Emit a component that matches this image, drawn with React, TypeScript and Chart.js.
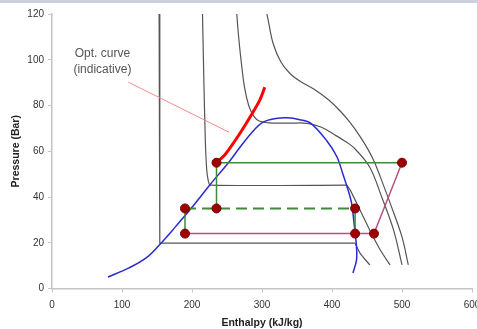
import React, { useEffect, useRef } from "react";
import { Chart, registerables } from "chart.js";
Chart.register(...registerables);

// Saturation dome
const domeH = [80, 110, 135, 155, 175, 200, 226, 252, 268, 285, 301, 320, 336, 354, 369, 392, 407, 416, 423, 428, 431, 433, 435, 435, 430];
const domeP = [5, 9, 13.5, 19.6, 26.5, 35.5, 45.5, 55, 61.5, 68, 72.6, 74.3, 74.6, 73.8, 72.4, 64.8, 57.6, 49.6, 43, 37.3, 30, 24.2, 18.3, 12.4, 6.8];

// Isotherm 1
const iso1LiqH = [153, 154, 433];
const iso1LiqP = [120, 19.8, 19.8];
const iso1VapH = [433, 440, 454];
const iso1VapP = [19.8, 15.5, 10.3];

// Isotherm 2
const iso2LiqH = [215, 217, 219, 221, 223, 226, 421];
const iso2LiqP = [120, 90, 65, 52, 47.5, 45.2, 45.2];
const iso2VapH = [421, 426, 440, 454, 469, 483];
const iso2VapP = [45.2, 43, 34.3, 25.5, 16.8, 10.3];

// Isotherm 3 (near critical)
const iso3H = [264, 266, 270, 275, 281, 288, 296, 310, 340, 365, 385, 402, 418, 433, 454, 471, 488, 500];
const iso3P = [120, 112, 100, 88, 80, 75.5, 73.2, 72.4, 72.3, 72.2, 70.5, 67.5, 64.5, 61, 53, 40, 25.5, 10.3];

// Isotherm 4 (supercritical)
const iso4H = [307, 309, 316, 327, 340, 355, 375, 395, 412, 426, 440, 452, 461, 469, 485, 500, 509];
const iso4P = [120, 117, 107, 99, 94, 90.5, 87, 82.5, 77.5, 72.5, 66.5, 60.5, 55, 48.8, 35.7, 22.6, 10.3];

// Optimal curve (red)
const optH = [235, 247, 259, 272, 286, 297, 304];
const optP = [55, 58.5, 63.5, 69.5, 76.5, 82.5, 88];

// Cycle lines
const gasCoolerH = [235, 500];
const gasCoolerP = [55, 55];
const valve1H = [235, 235];
const valve1P = [55, 35];
const receiverH = [190, 433];
const receiverP = [35, 35];
const valve2H = [190, 190];
const valve2P = [35, 24];
const valve3H = [433, 433];
const valve3P = [35, 24];
const evapCompH = [190, 460, 500];
const evapCompP = [24, 24, 55];

// State points
const stateH = [235, 500, 190, 235, 433, 190, 433, 460];
const stateP = [55, 55, 35, 35, 35, 24, 24, 24];

// Annotation
const pointerH = [109, 253];
const pointerP = [90.2, 68.3];
const noteText = ["Opt. curve", "(indicative)"];
const noteH = [72, 72];
const noteP = [102.8, 95.5];

const pts = (h: number[], p: number[]) => h.map((x, i) => ({ x, y: p[i] }));

const line = (h: number[], p: number[], color: string, width: number, tension = 0, dash: number[] = []) => ({
  data: pts(h, p),
  showLine: true,
  borderColor: color,
  backgroundColor: color,
  borderWidth: width,
  borderDash: dash,
  pointRadius: 0,
  tension,
  fill: false,
});

const GRAY = "#555555";
const GREEN = "#3b8b3b";
const PINK = "#b5527f";

export default function App() {
  const ref = useRef<HTMLCanvasElement>(null);
  useEffect(() => {
    if (!ref.current) return;
    const bottomToTop: any[] = [
      line(iso1LiqH, iso1LiqP, GRAY, 1.2),
      line(iso1VapH, iso1VapP, GRAY, 1.2, 0.3),
      line(iso2LiqH, iso2LiqP, GRAY, 1.2, 0.2),
      line(iso2VapH, iso2VapP, GRAY, 1.2, 0.3),
      line(iso3H, iso3P, GRAY, 1.2, 0.35),
      line(iso4H, iso4P, GRAY, 1.2, 0.35),
      line(domeH, domeP, "#2a2ad2", 1.5, 0.35),
      line(pointerH, pointerP, "#f08a8a", 1),
      line(gasCoolerH, gasCoolerP, GREEN, 1.5),
      line(valve1H, valve1P, GREEN, 1.5),
      line(valve2H, valve2P, GREEN, 1.5),
      line(valve3H, valve3P, GREEN, 1.5),
      line(receiverH, receiverP, GREEN, 2, 0, [11, 6]),
      line(evapCompH, evapCompP, PINK, 1.5),
      line(optH, optP, "#ff0000", 3, 0.3),
      {
        data: pts(stateH, stateP),
        showLine: false,
        pointRadius: 4.5,
        pointBackgroundColor: "#9e0000",
        pointBorderColor: "#7a0000",
        pointBorderWidth: 1,
      },
    ];
    const datasets = bottomToTop.map((d, i) => ({ ...d, order: bottomToTop.length - i }));

    const textPlugin = {
      id: "notes",
      afterDatasetsDraw(chart: any) {
        const { ctx, scales } = chart;
        ctx.save();
        ctx.font = '12px "Liberation Sans", Arial, sans-serif';
        ctx.fillStyle = "#555";
        ctx.textAlign = "center";
        ctx.textBaseline = "middle";
        noteText.forEach((t, i) => {
          ctx.fillText(t, scales.x.getPixelForValue(noteH[i]), scales.y.getPixelForValue(noteP[i]));
        });
        ctx.restore();
      },
    };

    const chart = new Chart(ref.current, {
      type: "scatter",
      data: { datasets },
      plugins: [textPlugin],
      options: {
        animation: false,
        responsive: false,
        devicePixelRatio: 1,
        layout: { padding: { top: 14, right: 18, left: 0, bottom: 0 } },
        plugins: { legend: { display: false }, tooltip: { enabled: false } },
        scales: {
          x: {
            type: "linear",
            min: 0,
            max: 600,
            ticks: { stepSize: 100, color: "#333", font: { size: 10, family: '"Liberation Sans", Arial, sans-serif' }, padding: 6.5 },
            grid: { display: true, drawOnChartArea: false, drawTicks: true, tickLength: 4, color: "#c4c4c4" },
            border: { display: true, color: "#c4c4c4", width: 1.5 },
            title: {
              display: true,
              text: "Enthalpy (kJ/kg)",
              color: "#222",
              font: { size: 10.5, weight: "bold", family: '"Liberation Sans", Arial, sans-serif' },
              padding: { top: 0, bottom: 0 },
            },
            afterFit: (s: any) => {
              s.height = 40.5;
            },
          },
          y: {
            type: "linear",
            min: 0,
            max: 120,
            ticks: { stepSize: 20, color: "#333", font: { size: 10, family: '"Liberation Sans", Arial, sans-serif' }, padding: 4 },
            grid: { display: true, drawOnChartArea: false, drawTicks: true, tickLength: 4, color: "#c4c4c4" },
            border: { display: true, color: "#c4c4c4", width: 1.5 },
            title: {
              display: true,
              text: "Pressure (Bar)",
              color: "#222",
              font: { size: 10.5, weight: "bold", family: '"Liberation Sans", Arial, sans-serif' },
              padding: { top: 10, bottom: 0 },
            },
            afterFit: (s: any) => {
              s.width = 52;
            },
          },
        },
      } as any,
    });
    return () => chart.destroy();
  }, []);

  return (
    <div style={{ position: "fixed", left: 0, top: 0, width: 477, height: 329, overflow: "hidden", background: "#fff" }}>
      <canvas ref={ref} width={490} height={329} style={{ position: "absolute", left: 0, top: 0, width: 490, height: 329 }} />
      <div style={{ position: "absolute", left: 0, top: 0, width: 477, height: 3, background: "#cdd0dc" }} />
    </div>
  );
}
